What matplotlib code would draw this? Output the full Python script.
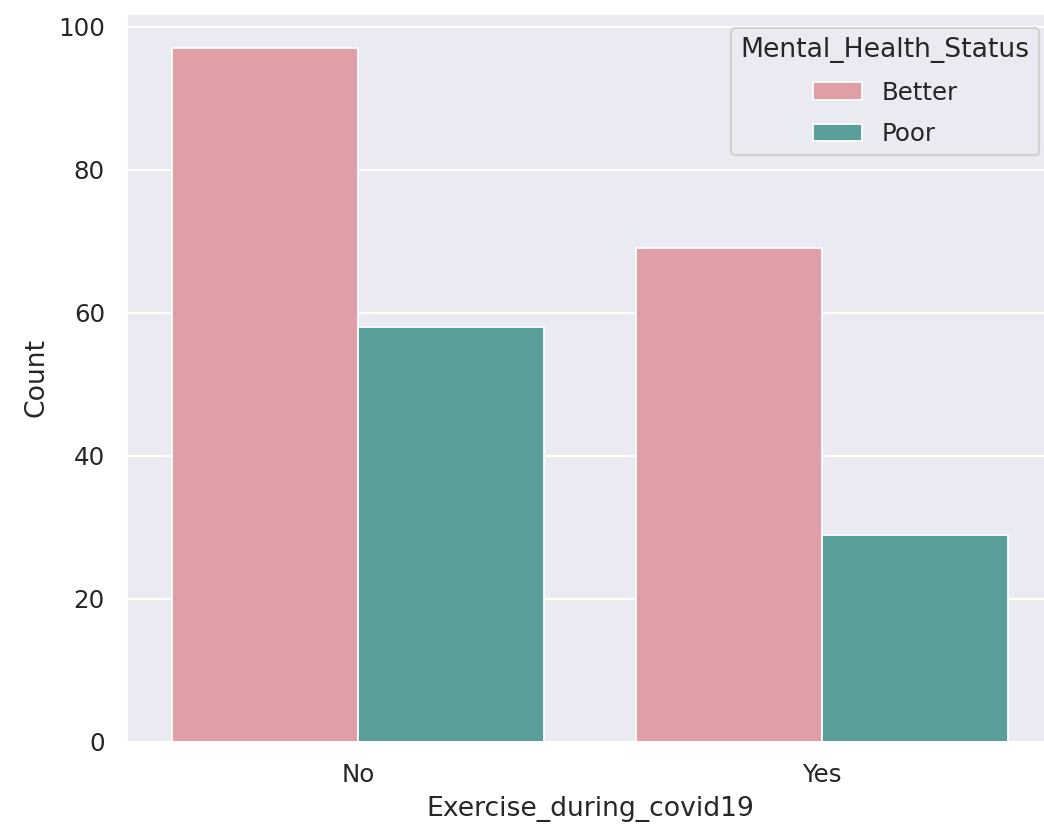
import matplotlib

matplotlib.use("Agg")

import matplotlib.pyplot as plt
import numpy as np
import seaborn as sns

categories = ["No", "Yes"]
hue_levels = ["Better", "Poor"]
better_counts = [97, 69]
poor_counts = [58, 29]

sns.set_theme(style="darkgrid")
plt.rcParams["font.family"] = ["DejaVu Sans"]

colors = {"Better": "#e09ea7", "Poor": "#5a9f99"}

# scaled-up render: small figure at high dpi gives 1044x832
fig = plt.figure(figsize=(6.525, 5.2), dpi=160)
ax = fig.add_axes([0.1207, 0.1082, 0.889, 0.8762])

x = np.arange(len(categories))
width = 0.4
ax.bar(x - width / 2, better_counts, width, color=colors["Better"], edgecolor="white", linewidth=0.8, label="Better")
ax.bar(x + width / 2, poor_counts, width, color=colors["Poor"], edgecolor="white", linewidth=0.8, label="Poor")

ax.set_xticks(x)
ax.set_xticklabels(categories)
ax.set_xlim(-0.5, 1.5)
ax.set_ylim(0, 101.9)
ax.set_yticks([0, 20, 40, 60, 80, 100])
ax.grid(axis="x", visible=False)
ax.set_xlabel("Exercise_during_covid19")
ax.set_ylabel("Count")

ax.legend(title="Mental_Health_Status", loc="upper right", labelspacing=0.7, borderaxespad=0.6)

fig.savefig("out.png", dpi=160)
plt.close(fig)
